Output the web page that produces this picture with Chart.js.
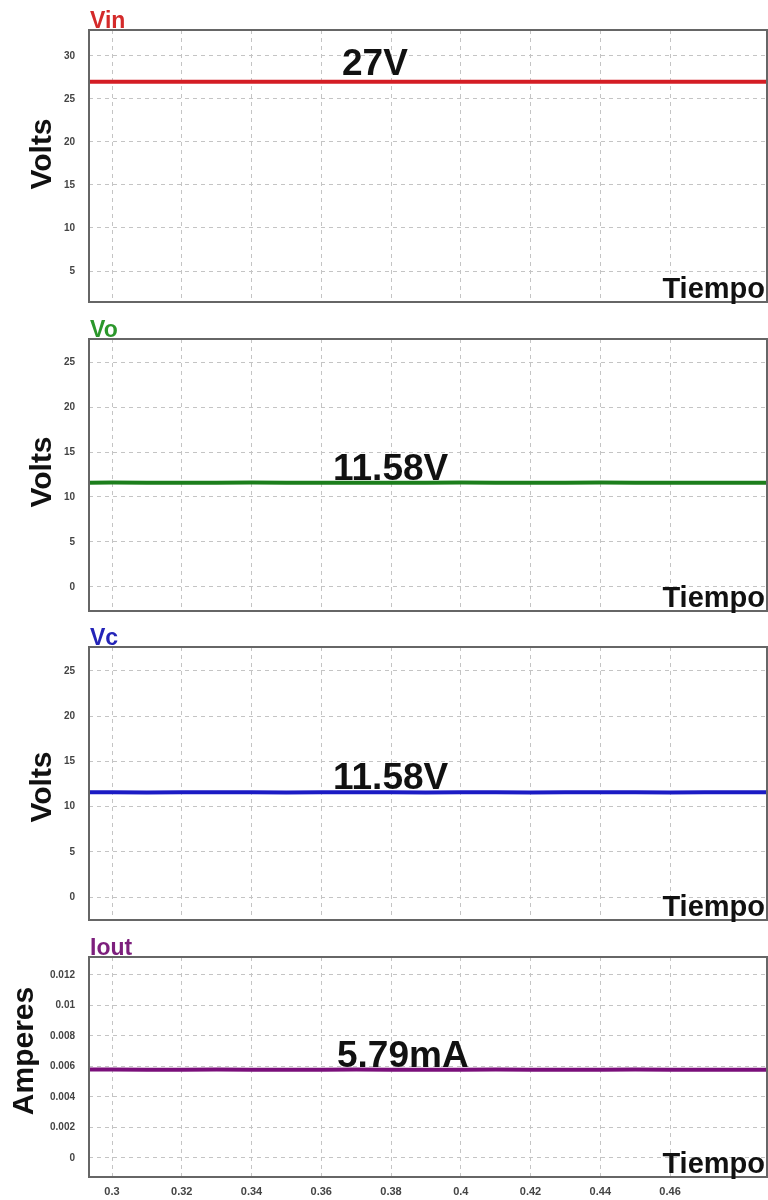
<!DOCTYPE html>
<html>
<head>
<meta charset="utf-8">
<script src="https://cdn.jsdelivr.net/npm/chart.js@4.4.1/dist/chart.umd.min.js"></script>
<style>
    html, body { margin: 0; padding: 0; background: #fff; }
    #wrap { position: relative; width: 768px; height: 1200px; overflow: hidden; }
    canvas { position: absolute; left: 0; }
</style>
</head>
<body>
<div id="wrap">
    <canvas id="c-vin" width="768" height="305" style="top:0px"></canvas>
    <canvas id="c-vo" width="768" height="309" style="top:305px"></canvas>
    <canvas id="c-vc" width="768" height="309" style="top:614px"></canvas>
    <canvas id="c-iout" width="768" height="277" style="top:923px"></canvas>
</div>
<script>
// Datos (simulación del convertidor)
const tiempo = [0.29, 0.30, 0.31, 0.32, 0.33, 0.34, 0.35, 0.36, 0.37, 0.38, 0.39,
                0.40, 0.41, 0.42, 0.43, 0.44, 0.45, 0.46, 0.47, 0.48, 0.49];
const vin  = [27, 27, 27, 27, 27, 27, 27, 27, 27, 27, 27,
              27, 27, 27, 27, 27, 27, 27, 27, 27, 27];
const vo   = [11.58, 11.6, 11.57, 11.59, 11.58, 11.6, 11.57, 11.58, 11.59, 11.58, 11.57,
              11.6, 11.58, 11.57, 11.59, 11.6, 11.58, 11.57, 11.59, 11.58, 11.58];
const vc   = [11.58, 11.6, 11.57, 11.59, 11.58, 11.6, 11.57, 11.58, 11.59, 11.58, 11.57,
              11.6, 11.58, 11.57, 11.59, 11.6, 11.58, 11.57, 11.59, 11.58, 11.58];
const iout = [0.00579, 0.0058, 0.00578, 0.00579, 0.0058, 0.00579, 0.00578, 0.00579, 0.0058, 0.00579, 0.00578,
              0.00579, 0.0058, 0.00579, 0.00578, 0.00579, 0.0058, 0.00579, 0.00578, 0.00579, 0.00579];

const xTicks = [0.3, 0.32, 0.34, 0.36, 0.38, 0.4, 0.42, 0.44, 0.46];
const xTickLabels = ['0.3', '0.32', '0.34', '0.36', '0.38', '0.4', '0.42', '0.44', '0.46'];
const vinTicks = [5, 10, 15, 20, 25, 30];
const vinTickLabels = ['5', '10', '15', '20', '25', '30'];
const voltTicks = [0, 5, 10, 15, 20, 25];
const voltTickLabels = ['0', '5', '10', '15', '20', '25'];
const ioutTicks = [0, 0.002, 0.004, 0.006, 0.008, 0.01, 0.012];
const ioutTickLabels = ['0', '0.002', '0.004', '0.006', '0.008', '0.01', '0.012'];

const FONT = '"Liberation Sans", Arial, sans-serif';
const GRID = '#c4c4c4';

// Configuración de cada panel
const panels = [
    { id: 'c-vin', name: 'Vin', color: '#d41d24', titleColor: '#d42a2a', data: vin,
      yMin: 1.4, yMax: 33, ticks: vinTicks, labels: vinTickLabels,
      yTitle: 'Volts', yTitleX: 43, yTitleY: 154, note: '27V', noteX: 342, noteOffset: 7,
      padTop: 30, padBottom: 3, showX: false },
    { id: 'c-vo', name: 'Vo', color: '#1c7e1c', titleColor: '#2b972b', data: vo,
      yMin: -2.67, yMax: 27.56, ticks: voltTicks, labels: voltTickLabels,
      yTitle: 'Volts', yTitleX: 43, yTitleY: 472 - 305, note: '11.58V', noteX: 333, noteOffset: 3,
      padTop: 34, padBottom: 3, showX: false },
    { id: 'c-vc', name: 'Vc', color: '#1b1bc4', titleColor: '#2424b8', data: vc,
      yMin: -2.54, yMax: 27.65, ticks: voltTicks, labels: voltTickLabels,
      yTitle: 'Volts', yTitleX: 43, yTitleY: 787 - 614, note: '11.58V', noteX: 333, noteOffset: 3,
      padTop: 33, padBottom: 3, showX: false },
    { id: 'c-iout', name: 'Iout', color: '#7a0f7a', titleColor: '#7d1f7d', data: iout,
      yMin: -0.00125, yMax: 0.01318, ticks: ioutTicks, labels: ioutTickLabels,
      yTitle: 'Amperes', yTitleX: 25, yTitleY: 1051 - 923, note: '5.79mA', noteX: 337, noteOffset: 3,
      padTop: 34, padBottom: 0, showX: true }
];

// Marco, título del panel, anotación y etiquetas de ejes
const decorPlugin = {
    id: 'decor',
    afterDraw(chart, args, opts) {
        const p = opts.panel;
        const { ctx, chartArea: a } = chart;
        const y = chart.scales.y;
        ctx.save();

        ctx.strokeStyle = '#666';
        ctx.lineWidth = 2;
        ctx.strokeRect(a.left, a.top, a.right - a.left, a.bottom - a.top);

        ctx.fillStyle = p.titleColor;
        ctx.font = 'bold 23px ' + FONT;
        ctx.textAlign = 'left';
        ctx.textBaseline = 'alphabetic';
        ctx.fillText(p.name, a.left + 1, a.top - 2);

        ctx.fillStyle = '#111';
        ctx.font = 'bold 37px ' + FONT;
        ctx.fillText(p.note, p.noteX, y.getPixelForValue(p.data[0]) - p.noteOffset);

        ctx.font = 'bold 29px ' + FONT;
        ctx.textAlign = 'right';
        ctx.fillText('Tiempo', a.right - 2, a.bottom - 4);

        ctx.translate(p.yTitleX, p.yTitleY);
        ctx.rotate(-Math.PI / 2);
        ctx.textAlign = 'center';
        ctx.textBaseline = 'middle';
        ctx.font = 'bold 30px ' + FONT;
        ctx.fillText(p.yTitle, 0, 0);
        ctx.restore();
    }
};

panels.forEach(p => {
    const ctx = document.getElementById(p.id).getContext('2d');
    new Chart(ctx, {
        type: 'line',
        data: {
            labels: tiempo,
            datasets: [{
                data: tiempo.map((t, i) => ({ x: t, y: p.data[i] })),
                borderColor: p.color,
                borderWidth: 4,
                pointRadius: 0,
                tension: 0
            }]
        },
        options: {
            responsive: false,
            animation: false,
            layout: { padding: { top: p.padTop, bottom: p.padBottom, left: 0, right: 1 } },
            plugins: {
                legend: { display: false },
                tooltip: { enabled: false },
                decor: { panel: p }
            },
            scales: {
                x: {
                    type: 'linear',
                    min: 0.2934,
                    max: 0.4878,
                    afterBuildTicks: s => { s.ticks = xTicks.map(v => ({ value: v })); },
                    afterFit: s => { s.height = p.showX ? 23 : 0; },
                    grid: { color: GRID, lineWidth: 1, drawTicks: false, borderDash: [4, 4] },
                    border: { display: false, dash: [4, 4] },
                    ticks: {
                        display: p.showX,
                        padding: 8,
                        color: '#444',
                        font: { family: FONT, size: 11, weight: 'bold' },
                        maxRotation: 0,
                        callback: (v, i) => xTickLabels[i]
                    }
                },
                y: {
                    min: p.yMin,
                    max: p.yMax,
                    afterBuildTicks: s => { s.ticks = p.ticks.map(v => ({ value: v })); },
                    afterFit: s => {
                        // ancho fijo del eje y sin relleno extra arriba/abajo
                        s.width = 89;
                        s.paddingTop = 0;
                        s.paddingBottom = 0;
                    },
                    grid: { color: GRID, lineWidth: 1, drawTicks: false, borderDash: [4, 4] },
                    border: { display: false, dash: [4, 4] },
                    ticks: {
                        padding: 14,
                        color: '#444',
                        font: { family: FONT, size: 10, weight: 'bold' },
                        callback: (v, i) => p.labels[i]
                    }
                }
            }
        },
        plugins: [decorPlugin]
    });
});
</script>
</body>
</html>
